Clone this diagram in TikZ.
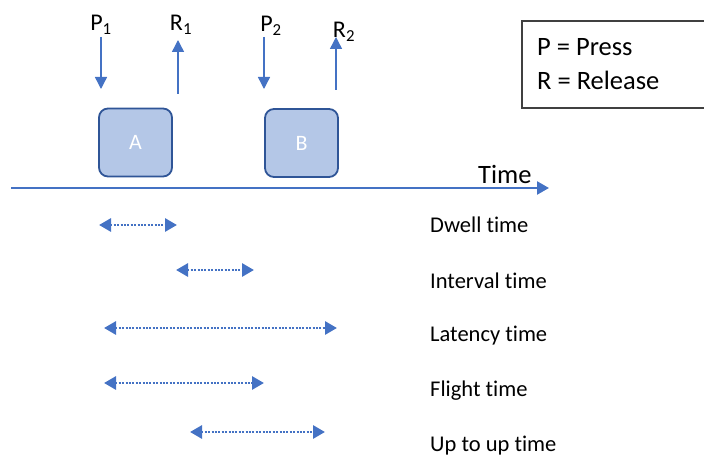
\documentclass[tikz,border=0pt]{standalone}
\usepackage{fontspec}
\setmainfont{Carlito}[Ligatures=NoCommon]
\usetikzlibrary{arrows.meta}
\definecolor{accent}{HTML}{4472C4}
\definecolor{keyfill}{HTML}{B4C7E7}
\definecolor{keyline}{HTML}{2F5597}
\definecolor{legline}{HTML}{404040}
\tikzset{
  keybox/.style={draw=keyline, fill=keyfill, line width=1.8pt, rounded corners=9pt,
    minimum width=73pt, minimum height=68pt, inner sep=0pt, text=white,
    font=\fontsize{22}{26}\selectfont},
  evarrow/.style={draw=accent, line width=1.4pt, -{Triangle[length=12pt,width=12pt]}},
  timearrow/.style={draw=accent, line width=2.4pt, -{Triangle[length=12pt,width=13pt]}},
  spanarrow/.style={draw=accent, line width=2.8pt, dash pattern=on 2pt off 1.4pt,
    {Triangle[length=12pt,width=13pt]}-{Triangle[length=12pt,width=13pt]}},
  evlabel/.style={inner sep=0pt, font=\fontsize{24}{28}\selectfont},
  spanlabel/.style={anchor=west, inner sep=0pt, font=\fontsize{22.5}{26}\selectfont},
  leglabel/.style={anchor=west, inner sep=0pt, font=\fontsize{26.5}{30}\selectfont}
}
\begin{document}
\begin{tikzpicture}[x=1pt,y=-1pt]
\useasboundingbox (0,0) rectangle (704,457);

% timeline
\coordinate (t0) at (11,188);
\coordinate (t1) at (549,188);
\draw[timearrow] (t0) -- (t1);
\node[inner sep=0pt, anchor=base west, font=\fontsize{26.5}{30}\selectfont] (time) at (478,184) {Time};

% keys
\node[keybox] (A) at (135.5,142.5) {A};
\node[keybox] (B) at (301.5,143) {B};

% event labels and arrows
\node[evlabel] (p1) at (101,25) {P\textsubscript{1}};
\node[evlabel] (r1) at (181,25) {R\textsubscript{1}};
\node[evlabel] (p2) at (271,26) {P\textsubscript{2}};
\node[evlabel] (r2) at (344,32) {R\textsubscript{2}};
\coordinate (p1a) at (101,37); \coordinate (p1b) at (101,89);
\coordinate (r1a) at (178,94); \coordinate (r1b) at (178,40);
\coordinate (p2a) at (264,37); \coordinate (p2b) at (264,89);
\coordinate (r2a) at (336,90); \coordinate (r2b) at (336,37);
\draw[evarrow] (p1a) -- (p1b);
\draw[evarrow] (r1a) -- (r1b);
\draw[evarrow] (p2a) -- (p2b);
\draw[evarrow] (r2a) -- (r2b);

% legend
\draw[legline, line width=1.3pt] (708,21) -- (522,21) -- (522,108) -- (708,108);
\node[leglabel] (lp) at (537,47) {P = Press};
\node[leglabel] (lr) at (537,80) {R = Release};

% spans
\coordinate (d0) at (99,225);  \coordinate (d1) at (177,225);
\coordinate (i0) at (176,270); \coordinate (i1) at (254,270);
\coordinate (l0) at (104,328); \coordinate (l1) at (337,328);
\coordinate (f0) at (104,383); \coordinate (f1) at (264,383);
\coordinate (u0) at (190,432); \coordinate (u1) at (325,432);
\draw[spanarrow] (d0) -- (d1);
\draw[spanarrow] (i0) -- (i1);
\draw[spanarrow] (l0) -- (l1);
\draw[spanarrow] (f0) -- (f1);
\draw[spanarrow] (u0) -- (u1);

\node[spanlabel] (dl) at (430,225) {Dwell\ time};
\node[spanlabel] (il) at (430,281) {Interval time};
\node[spanlabel] (ll) at (430,336) {Latency time};
\node[spanlabel] (fl) at (430,391) {Flight time};
\node[spanlabel] (ul) at (430,446) {Up to up time};
\end{tikzpicture}
\end{document}
